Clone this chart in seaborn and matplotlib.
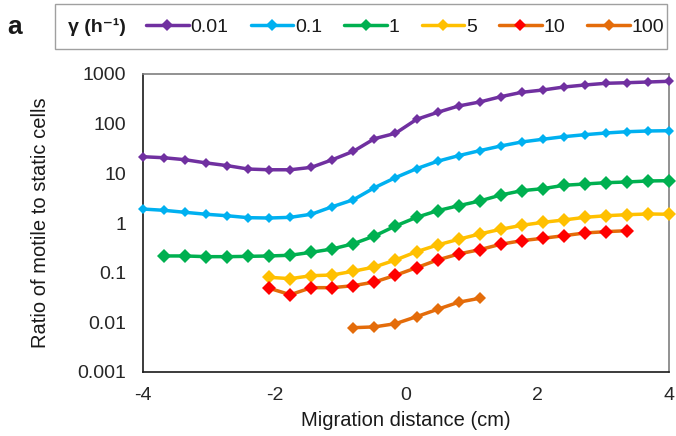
import numpy as np
import pandas as pd
import matplotlib
matplotlib.use("Agg")
import matplotlib.pyplot as plt
from matplotlib.lines import Line2D
from matplotlib.patches import Rectangle
from matplotlib.ticker import NullLocator
import seaborn as sns

# ---------------- data ----------------
distance = [-4.00, -3.68, -3.36, -3.04, -2.72, -2.40, -2.08, -1.76, -1.44, -1.12,
            -0.80, -0.48, -0.16, 0.16, 0.48, 0.80, 1.12, 1.44, 1.76, 2.08,
            2.40, 2.72, 3.04, 3.36, 3.68, 4.00]

nan = np.nan
gamma_0_01 = [21.6, 20.6, 18.8, 16.2, 14.3, 12.2, 11.8, 11.8, 13.2, 18.8,
              27.8, 49.8, 64, 122, 169, 227, 273, 349, 428, 476,
              547, 601, 650, 668, 690, 713]
gamma_0_1 = [1.91, 1.80, 1.64, 1.50, 1.40, 1.28, 1.26, 1.30, 1.50, 2.13,
             2.94, 5.14, 8.2, 12.4, 17.5, 22.7, 28.6, 35.5, 42.8, 48.5,
             54.7, 60, 64.9, 68.9, 71.2, 72.2]
gamma_1 = [nan, 0.217, 0.217, 0.210, 0.210, 0.213, 0.217, 0.224, 0.257, 0.300,
           0.383, 0.547, 0.871, 1.30, 1.77, 2.23, 2.77, 3.66, 4.47, 4.91,
           5.74, 6.10, 6.48, 6.70, 7.02, 7.11]
gamma_5 = [nan, nan, nan, nan, nan, nan, 0.0807, 0.0757, 0.0869, 0.0898,
           0.107, 0.130, 0.180, 0.264, 0.361, 0.470, 0.601, 0.747, 0.899, 1.03,
           1.15, 1.30, 1.40, 1.47, 1.52, 1.50]
gamma_10 = [nan, nan, nan, nan, nan, nan, 0.0485, 0.0360, 0.0499, 0.0499,
            0.0547, 0.0649, 0.0886, 0.126, 0.180, 0.238, 0.290, 0.373, 0.441, 0.492,
            0.555, 0.630, 0.669, 0.700, nan, nan]
gamma_100 = [nan, nan, nan, nan, nan, nan, nan, nan, nan, nan,
             0.0078, 0.0081, 0.0094, 0.0130, 0.0183, 0.0254, 0.0305, nan, nan, nan,
             nan, nan, nan, nan, nan, nan]

series_labels = ["0.01", "0.1", "1", "5", "10", "100"]
series_values = [gamma_0_01, gamma_0_1, gamma_1, gamma_5, gamma_10, gamma_100]

y_ticks = [0.001, 0.01, 0.1, 1, 10, 100, 1000]
y_tick_labels = ["0.001", "0.01", "0.1", "1", "10", "100", "1000"]
x_ticks = [-4, -2, 0, 2, 4]

# ---------------- styles ----------------
line_colors = ["#7030A0", "#00B0F0", "#00B050", "#FFC000", "#E46C0A", "#E46C0A"]
marker_colors = ["#7030A0", "#00B0F0", "#00B050", "#FFC000", "#FF0000", "#E46C0A"]
marker_sizes = [5.6, 5.6, 7.0, 7.0, 7.0, 6.6]

sns.set_style("white")
plt.rcParams["font.family"] = ["Liberation Sans", "DejaVu Sans"]

rows = []
for lab, vals in zip(series_labels, series_values):
    for d, v in zip(distance, vals):
        if not np.isnan(v):
            rows.append({"distance": d, "ratio": v, "gamma": lab})
df = pd.DataFrame(rows)

fig = plt.figure(figsize=(6.76, 4.36), dpi=100)
ax = fig.add_axes([143 / 676, 1 - 372 / 436, 526 / 676, 298 / 436])

for lab, lc, mc, ms in zip(series_labels, line_colors, marker_colors, marker_sizes):
    sub = df[df["gamma"] == lab]
    sns.lineplot(data=sub, x="distance", y="ratio", ax=ax, color=lc,
                 marker="D", markersize=ms, markerfacecolor=mc,
                 markeredgecolor=mc, markeredgewidth=0, linewidth=2.5,
                 errorbar=None, clip_on=False, legend=False, zorder=3)

ax.set_yscale("log")
ax.set_ylim(0.001, 1000)
ax.set_xlim(-4, 4)
ax.set_yticks(y_ticks)
ax.set_yticklabels(y_tick_labels)
ax.yaxis.set_minor_locator(NullLocator())
ax.set_xticks(x_ticks)
ax.set_xticklabels([str(t) if t >= 0 else "-" + str(-t) for t in x_ticks])

ax.tick_params(axis="both", which="major", labelsize=14, length=5,
               width=1.0, color="#222222", direction="out")
ax.tick_params(axis="y", pad=7)
ax.tick_params(axis="x", pad=6)

for side in ["left", "bottom"]:
    ax.spines[side].set_color("#1a1a1a")
    ax.spines[side].set_linewidth(1.2)
for side in ["top", "right"]:
    ax.spines[side].set_visible(True)
    ax.spines[side].set_color("#7f7f7f")
    ax.spines[side].set_linewidth(1.2)

ax.set_xlabel("Migration distance (cm)", fontsize=14.5, labelpad=5, color="#1a1a1a")
ax.set_ylabel("Ratio of motile to static cells", fontsize=14.5, labelpad=20, color="#1a1a1a")

# ---------------- legend ----------------
fig.patches.append(Rectangle((55 / 676, 1 - 49 / 436), 612 / 676, 44.5 / 436,
                             transform=fig.transFigure, facecolor="white",
                             edgecolor="#a0a0a0", linewidth=1.0, zorder=0))
fig.text(68 / 676, 1 - 27 / 436, "γ (h⁻¹)", fontsize=14, fontweight="bold",
         ha="left", va="center", color="#1a1a1a")
fig.text(7 / 676, 1 - 27 / 436, "a", fontsize=19, fontweight="bold",
         ha="left", va="center", color="#1a1a1a")

handles = [Line2D([], [], color=lc, marker="D", markersize=6,
                  markerfacecolor=mc, markeredgecolor=mc, markeredgewidth=0,
                  linewidth=2.5)
           for lc, mc in zip(line_colors, marker_colors)]
fig.legend(handles, series_labels, loc="center left",
           bbox_to_anchor=(146 / 676, 1 - 27 / 436), ncol=6, frameon=False,
           fontsize=14, handlelength=2.2, handletextpad=0.1,
           columnspacing=1.12, borderpad=0, borderaxespad=0,
           labelcolor="#1a1a1a")

fig.savefig("out.png", dpi=100)
